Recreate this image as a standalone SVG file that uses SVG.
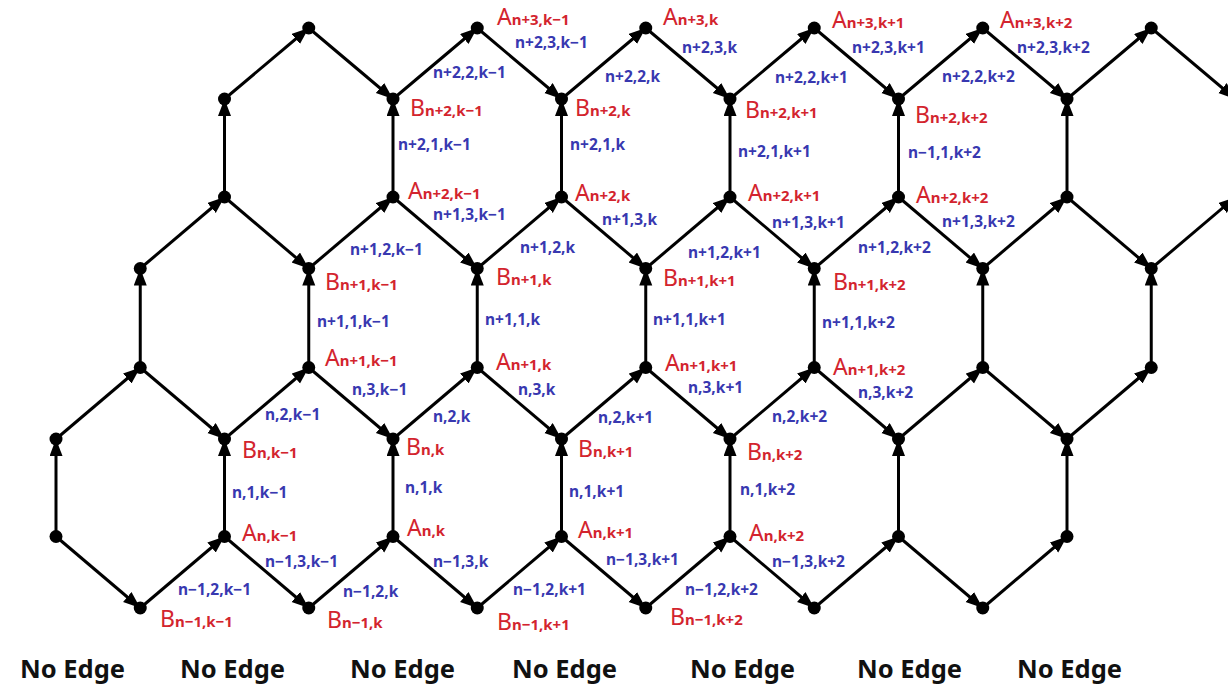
<svg xmlns="http://www.w3.org/2000/svg" width="1228" height="684" viewBox="0 0 1228 684">
  <defs>
    <marker id="ah" markerUnits="userSpaceOnUse" markerWidth="18" markerHeight="14" refX="17" refY="6.5" orient="auto">
      <path d="M0,0 L17,6.5 L0,13 z" fill="#000"/>
    </marker>
    <style>
      .e { stroke:#000; stroke-width:3; fill:none; marker-end:url(#ah); }
      .dot { fill:#000; }
      .nl { font-family:"Noto Sans","Noto Sans CJK JP",sans-serif; font-size:23px; fill:#d3242e; }
      .nl tspan { font-size:15px; font-weight:bold; }
      .el { font-family:"Noto Sans","Noto Sans CJK JP",sans-serif; font-size:15.5px; font-weight:bold; fill:#3838b0; }
      .ne { font-family:"Noto Sans","Noto Sans CJK JP",sans-serif; font-size:25.5px; font-weight:bold; fill:#111; }
    </style>
  </defs>
  <rect width="1228" height="684" fill="#fff"/>

  <!-- directed edges: verticals point up, "/" edges up-right, "\" edges down-right -->
  <g id="connectors">
    <!-- verticals A -> B -->
    <line class="e" x1="56" y1="536.5" x2="56" y2="439"/>
    <line class="e" x1="224.5" y1="536.5" x2="224.5" y2="439"/>
    <line class="e" x1="393" y1="536.5" x2="393" y2="439"/>
    <line class="e" x1="561.5" y1="536.5" x2="561.5" y2="439"/>
    <line class="e" x1="730" y1="536.5" x2="730" y2="439"/>
    <line class="e" x1="898.5" y1="536.5" x2="898.5" y2="439"/>
    <line class="e" x1="1067" y1="536.5" x2="1067" y2="439"/>

    <line class="e" x1="140.25" y1="367.5" x2="140.25" y2="268.5"/>
    <line class="e" x1="308.75" y1="367.5" x2="308.75" y2="268.5"/>
    <line class="e" x1="477.25" y1="367.5" x2="477.25" y2="268.5"/>
    <line class="e" x1="645.75" y1="367.5" x2="645.75" y2="268.5"/>
    <line class="e" x1="814.25" y1="367.5" x2="814.25" y2="268.5"/>
    <line class="e" x1="982.75" y1="367.5" x2="982.75" y2="268.5"/>
    <line class="e" x1="1151.25" y1="367.5" x2="1151.25" y2="268.5"/>

    <line class="e" x1="224.5" y1="197" x2="224.5" y2="99"/>
    <line class="e" x1="393" y1="197" x2="393" y2="99"/>
    <line class="e" x1="561.5" y1="197" x2="561.5" y2="99"/>
    <line class="e" x1="730" y1="197" x2="730" y2="99"/>
    <line class="e" x1="898.5" y1="197" x2="898.5" y2="99"/>
    <line class="e" x1="1067" y1="197" x2="1067" y2="99"/>

    <!-- bottom zigzag -->
    <line class="e" x1="56" y1="536.5" x2="140.25" y2="608"/>
    <line class="e" x1="140.25" y1="608" x2="224.5" y2="536.5"/>
    <line class="e" x1="224.5" y1="536.5" x2="308.75" y2="608"/>
    <line class="e" x1="308.75" y1="608" x2="393" y2="536.5"/>
    <line class="e" x1="393" y1="536.5" x2="477.25" y2="608"/>
    <line class="e" x1="477.25" y1="608" x2="561.5" y2="536.5"/>
    <line class="e" x1="561.5" y1="536.5" x2="645.75" y2="608"/>
    <line class="e" x1="645.75" y1="608" x2="730" y2="536.5"/>
    <line class="e" x1="730" y1="536.5" x2="814.25" y2="608"/>
    <line class="e" x1="814.25" y1="608" x2="898.5" y2="536.5"/>
    <line class="e" x1="898.5" y1="536.5" x2="982.75" y2="608"/>
    <line class="e" x1="982.75" y1="608" x2="1067" y2="536.5"/>

    <!-- second zigzag -->
    <line class="e" x1="56" y1="439" x2="140.25" y2="367.5"/>
    <line class="e" x1="140.25" y1="367.5" x2="224.5" y2="439"/>
    <line class="e" x1="224.5" y1="439" x2="308.75" y2="367.5"/>
    <line class="e" x1="308.75" y1="367.5" x2="393" y2="439"/>
    <line class="e" x1="393" y1="439" x2="477.25" y2="367.5"/>
    <line class="e" x1="477.25" y1="367.5" x2="561.5" y2="439"/>
    <line class="e" x1="561.5" y1="439" x2="645.75" y2="367.5"/>
    <line class="e" x1="645.75" y1="367.5" x2="730" y2="439"/>
    <line class="e" x1="730" y1="439" x2="814.25" y2="367.5"/>
    <line class="e" x1="814.25" y1="367.5" x2="898.5" y2="439"/>
    <line class="e" x1="898.5" y1="439" x2="982.75" y2="367.5"/>
    <line class="e" x1="982.75" y1="367.5" x2="1067" y2="439"/>
    <line class="e" x1="1067" y1="439" x2="1151.25" y2="367.5"/>

    <!-- third zigzag -->
    <line class="e" x1="140.25" y1="268.5" x2="224.5" y2="197"/>
    <line class="e" x1="224.5" y1="197" x2="308.75" y2="268.5"/>
    <line class="e" x1="308.75" y1="268.5" x2="393" y2="197"/>
    <line class="e" x1="393" y1="197" x2="477.25" y2="268.5"/>
    <line class="e" x1="477.25" y1="268.5" x2="561.5" y2="197"/>
    <line class="e" x1="561.5" y1="197" x2="645.75" y2="268.5"/>
    <line class="e" x1="645.75" y1="268.5" x2="730" y2="197"/>
    <line class="e" x1="730" y1="197" x2="814.25" y2="268.5"/>
    <line class="e" x1="814.25" y1="268.5" x2="898.5" y2="197"/>
    <line class="e" x1="898.5" y1="197" x2="982.75" y2="268.5"/>
    <line class="e" x1="982.75" y1="268.5" x2="1067" y2="197"/>
    <line class="e" x1="1067" y1="197" x2="1151.25" y2="268.5"/>
    <line class="e" x1="1151.25" y1="268.5" x2="1235.5" y2="197"/>

    <!-- top zigzag -->
    <line class="e" x1="224.5" y1="99" x2="308.75" y2="28"/>
    <line class="e" x1="308.75" y1="28" x2="393" y2="99"/>
    <line class="e" x1="393" y1="99" x2="477.25" y2="28"/>
    <line class="e" x1="477.25" y1="28" x2="561.5" y2="99"/>
    <line class="e" x1="561.5" y1="99" x2="645.75" y2="28"/>
    <line class="e" x1="645.75" y1="28" x2="730" y2="99"/>
    <line class="e" x1="730" y1="99" x2="814.25" y2="28"/>
    <line class="e" x1="814.25" y1="28" x2="898.5" y2="99"/>
    <line class="e" x1="898.5" y1="99" x2="982.75" y2="28"/>
    <line class="e" x1="982.75" y1="28" x2="1067" y2="99"/>
    <line class="e" x1="1067" y1="99" x2="1151.25" y2="28"/>
    <line class="e" x1="1151.25" y1="28" x2="1235.5" y2="99"/>

    <!-- edge labels -->
    <g id="edge-labels">
      <text class="el" x="178" y="595">n−1,2,k−1</text>
      <text class="el" x="265" y="567">n−1,3,k−1</text>
      <text class="el" x="232" y="498">n,1,k−1</text>
      <text class="el" x="265" y="420">n,2,k−1</text>
      <text class="el" x="433" y="422">n,2,k</text>
      <text class="el" x="405" y="493">n,1,k</text>
      <text class="el" x="433" y="567">n−1,3,k</text>
      <text class="el" x="343" y="597">n−1,2,k</text>
      <text class="el" x="513" y="595">n−1,2,k+1</text>
      <text class="el" x="569" y="497">n,1,k+1</text>
      <text class="el" x="606" y="565">n−1,3,k+1</text>
      <text class="el" x="598" y="423">n,2,k+1</text>
      <text class="el" x="772" y="422">n,2,k+2</text>
      <text class="el" x="740" y="495">n,1,k+2</text>
      <text class="el" x="772" y="567">n−1,3,k+2</text>
      <text class="el" x="685" y="595">n−1,2,k+2</text>

      <text class="el" x="350" y="255">n+1,2,k−1</text>
      <text class="el" x="317" y="327">n+1,1,k−1</text>
      <text class="el" x="352" y="395">n,3,k−1</text>
      <text class="el" x="520" y="253">n+1,2,k</text>
      <text class="el" x="485" y="325">n+1,1,k</text>
      <text class="el" x="518" y="395">n,3,k</text>
      <text class="el" x="688" y="258">n+1,2,k+1</text>
      <text class="el" x="653" y="325">n+1,1,k+1</text>
      <text class="el" x="688" y="393">n,3,k+1</text>
      <text class="el" x="858" y="253">n+1,2,k+2</text>
      <text class="el" x="822" y="328">n+1,1,k+2</text>
      <text class="el" x="858" y="398">n,3,k+2</text>

      <text class="el" x="433" y="220">n+1,3,k−1</text>
      <text class="el" x="602" y="225">n+1,3,k</text>
      <text class="el" x="772" y="228">n+1,3,k+1</text>
      <text class="el" x="942" y="227">n+1,3,k+2</text>
      <text class="el" x="398" y="150">n+2,1,k−1</text>
      <text class="el" x="570" y="150">n+2,1,k</text>
      <text class="el" x="738" y="157">n+2,1,k+1</text>
      <text class="el" x="908" y="158">n−1,1,k+2</text>
      <text class="el" x="433" y="78">n+2,2,k−1</text>
      <text class="el" x="605" y="82">n+2,2,k</text>
      <text class="el" x="775" y="83">n+2,2,k+1</text>
      <text class="el" x="942" y="82">n+2,2,k+2</text>
      <text class="el" x="515" y="48">n+2,3,k−1</text>
      <text class="el" x="682" y="53">n+2,3,k</text>
      <text class="el" x="852" y="53">n+2,3,k+1</text>
      <text class="el" x="1017" y="53">n+2,3,k+2</text>
    </g>
  </g>

  <!-- lattice vertices -->
  <g id="nodes">
    <!-- row B(n-1) -->
    <g id="B_n-1_k-1"><circle class="dot" cx="140.25" cy="608" r="6.5"/><text class="nl" x="160" y="627">B<tspan>n−1,k−1</tspan></text></g>
    <g id="B_n-1_k"><circle class="dot" cx="308.75" cy="608" r="6.5"/><text class="nl" x="327" y="628">B<tspan>n−1,k</tspan></text></g>
    <g id="B_n-1_k+1"><circle class="dot" cx="477.25" cy="608" r="6.5"/><text class="nl" x="497" y="630">B<tspan>n−1,k+1</tspan></text></g>
    <g id="B_n-1_k+2"><circle class="dot" cx="645.75" cy="608" r="6.5"/><text class="nl" x="670" y="625">B<tspan>n−1,k+2</tspan></text></g>
    <g id="v0-9"><circle class="dot" cx="814.25" cy="608" r="6.5"/></g>
    <g id="v0-11"><circle class="dot" cx="982.75" cy="608" r="6.5"/></g>

    <!-- row A(n) -->
    <g id="v1-0"><circle class="dot" cx="56" cy="536.5" r="6.5"/></g>
    <g id="A_n_k-1"><circle class="dot" cx="224.5" cy="536.5" r="6.5"/><text class="nl" x="242" y="541">A<tspan>n,k−1</tspan></text></g>
    <g id="A_n_k"><circle class="dot" cx="393" cy="536.5" r="6.5"/><text class="nl" x="407" y="536">A<tspan>n,k</tspan></text></g>
    <g id="A_n_k+1"><circle class="dot" cx="561.5" cy="536.5" r="6.5"/><text class="nl" x="578" y="538">A<tspan>n,k+1</tspan></text></g>
    <g id="A_n_k+2"><circle class="dot" cx="730" cy="536.5" r="6.5"/><text class="nl" x="749" y="541">A<tspan>n,k+2</tspan></text></g>
    <g id="v1-10"><circle class="dot" cx="898.5" cy="536.5" r="6.5"/></g>
    <g id="v1-12"><circle class="dot" cx="1067" cy="536.5" r="6.5"/></g>

    <!-- row B(n) -->
    <g id="v2-0"><circle class="dot" cx="56" cy="439" r="6.5"/></g>
    <g id="B_n_k-1"><circle class="dot" cx="224.5" cy="439" r="6.5"/><text class="nl" x="242" y="458">B<tspan>n,k−1</tspan></text></g>
    <g id="B_n_k"><circle class="dot" cx="393" cy="439" r="6.5"/><text class="nl" x="406" y="455">B<tspan>n,k</tspan></text></g>
    <g id="B_n_k+1"><circle class="dot" cx="561.5" cy="439" r="6.5"/><text class="nl" x="578" y="457">B<tspan>n,k+1</tspan></text></g>
    <g id="B_n_k+2"><circle class="dot" cx="730" cy="439" r="6.5"/><text class="nl" x="747" y="460">B<tspan>n,k+2</tspan></text></g>
    <g id="v2-10"><circle class="dot" cx="898.5" cy="439" r="6.5"/></g>
    <g id="v2-12"><circle class="dot" cx="1067" cy="439" r="6.5"/></g>

    <!-- row A(n+1) -->
    <g id="v3-1"><circle class="dot" cx="140.25" cy="367.5" r="6.5"/></g>
    <g id="A_n+1_k-1"><circle class="dot" cx="308.75" cy="367.5" r="6.5"/><text class="nl" x="325" y="366">A<tspan>n+1,k−1</tspan></text></g>
    <g id="A_n+1_k"><circle class="dot" cx="477.25" cy="367.5" r="6.5"/><text class="nl" x="496" y="370">A<tspan>n+1,k</tspan></text></g>
    <g id="A_n+1_k+1"><circle class="dot" cx="645.75" cy="367.5" r="6.5"/><text class="nl" x="665" y="371">A<tspan>n+1,k+1</tspan></text></g>
    <g id="A_n+1_k+2"><circle class="dot" cx="814.25" cy="367.5" r="6.5"/><text class="nl" x="833" y="375">A<tspan>n+1,k+2</tspan></text></g>
    <g id="v3-11"><circle class="dot" cx="982.75" cy="367.5" r="6.5"/></g>
    <g id="v3-13"><circle class="dot" cx="1151.25" cy="367.5" r="6.5"/></g>

    <!-- row B(n+1) -->
    <g id="v4-1"><circle class="dot" cx="140.25" cy="268.5" r="6.5"/></g>
    <g id="B_n+1_k-1"><circle class="dot" cx="308.75" cy="268.5" r="6.5"/><text class="nl" x="325" y="290">B<tspan>n+1,k−1</tspan></text></g>
    <g id="B_n+1_k"><circle class="dot" cx="477.25" cy="268.5" r="6.5"/><text class="nl" x="496" y="285">B<tspan>n+1,k</tspan></text></g>
    <g id="B_n+1_k+1"><circle class="dot" cx="645.75" cy="268.5" r="6.5"/><text class="nl" x="663" y="286">B<tspan>n+1,k+1</tspan></text></g>
    <g id="B_n+1_k+2"><circle class="dot" cx="814.25" cy="268.5" r="6.5"/><text class="nl" x="833" y="290">B<tspan>n+1,k+2</tspan></text></g>
    <g id="v4-11"><circle class="dot" cx="982.75" cy="268.5" r="6.5"/></g>
    <g id="v4-13"><circle class="dot" cx="1151.25" cy="268.5" r="6.5"/></g>

    <!-- row A(n+2) -->
    <g id="v5-2"><circle class="dot" cx="224.5" cy="197" r="6.5"/></g>
    <g id="A_n+2_k-1"><circle class="dot" cx="393" cy="197" r="6.5"/><text class="nl" x="408" y="199">A<tspan>n+2,k−1</tspan></text></g>
    <g id="A_n+2_k"><circle class="dot" cx="561.5" cy="197" r="6.5"/><text class="nl" x="575" y="201">A<tspan>n+2,k</tspan></text></g>
    <g id="A_n+2_k+1"><circle class="dot" cx="730" cy="197" r="6.5"/><text class="nl" x="748" y="201">A<tspan>n+2,k+1</tspan></text></g>
    <g id="A_n+2_k+2"><circle class="dot" cx="898.5" cy="197" r="6.5"/><text class="nl" x="916" y="203">A<tspan>n+2,k+2</tspan></text></g>
    <g id="v5-12"><circle class="dot" cx="1067" cy="197" r="6.5"/></g>

    <!-- row B(n+2) -->
    <g id="v6-2"><circle class="dot" cx="224.5" cy="99" r="6.5"/></g>
    <g id="B_n+2_k-1"><circle class="dot" cx="393" cy="99" r="6.5"/><text class="nl" x="410" y="116">B<tspan>n+2,k−1</tspan></text></g>
    <g id="B_n+2_k"><circle class="dot" cx="561.5" cy="99" r="6.5"/><text class="nl" x="575" y="116">B<tspan>n+2,k</tspan></text></g>
    <g id="B_n+2_k+1"><circle class="dot" cx="730" cy="99" r="6.5"/><text class="nl" x="745" y="118">B<tspan>n+2,k+1</tspan></text></g>
    <g id="B_n+2_k+2"><circle class="dot" cx="898.5" cy="99" r="6.5"/><text class="nl" x="915" y="123">B<tspan>n+2,k+2</tspan></text></g>
    <g id="v6-12"><circle class="dot" cx="1067" cy="99" r="6.5"/></g>

    <!-- row A(n+3) -->
    <g id="v7-3"><circle class="dot" cx="308.75" cy="28" r="6.5"/></g>
    <g id="A_n+3_k-1"><circle class="dot" cx="477.25" cy="28" r="6.5"/><text class="nl" x="497" y="25">A<tspan>n+3,k−1</tspan></text></g>
    <g id="A_n+3_k"><circle class="dot" cx="645.75" cy="28" r="6.5"/><text class="nl" x="663" y="25">A<tspan>n+3,k</tspan></text></g>
    <g id="A_n+3_k+1"><circle class="dot" cx="814.25" cy="28" r="6.5"/><text class="nl" x="832" y="28">A<tspan>n+3,k+1</tspan></text></g>
    <g id="A_n+3_k+2"><circle class="dot" cx="982.75" cy="28" r="6.5"/><text class="nl" x="1000" y="28">A<tspan>n+3,k+2</tspan></text></g>
    <g id="v7-13"><circle class="dot" cx="1151.25" cy="28" r="6.5"/></g>
  </g>

  <!-- open boundary below the bottom row -->
  <g id="boundary-notes">
    <text class="ne" x="20" y="678">No Edge</text>
    <text class="ne" x="180" y="678">No Edge</text>
    <text class="ne" x="350" y="678">No Edge</text>
    <text class="ne" x="512" y="678">No Edge</text>
    <text class="ne" x="690" y="678">No Edge</text>
    <text class="ne" x="857" y="678">No Edge</text>
    <text class="ne" x="1017" y="678">No Edge</text>
  </g>
</svg>
